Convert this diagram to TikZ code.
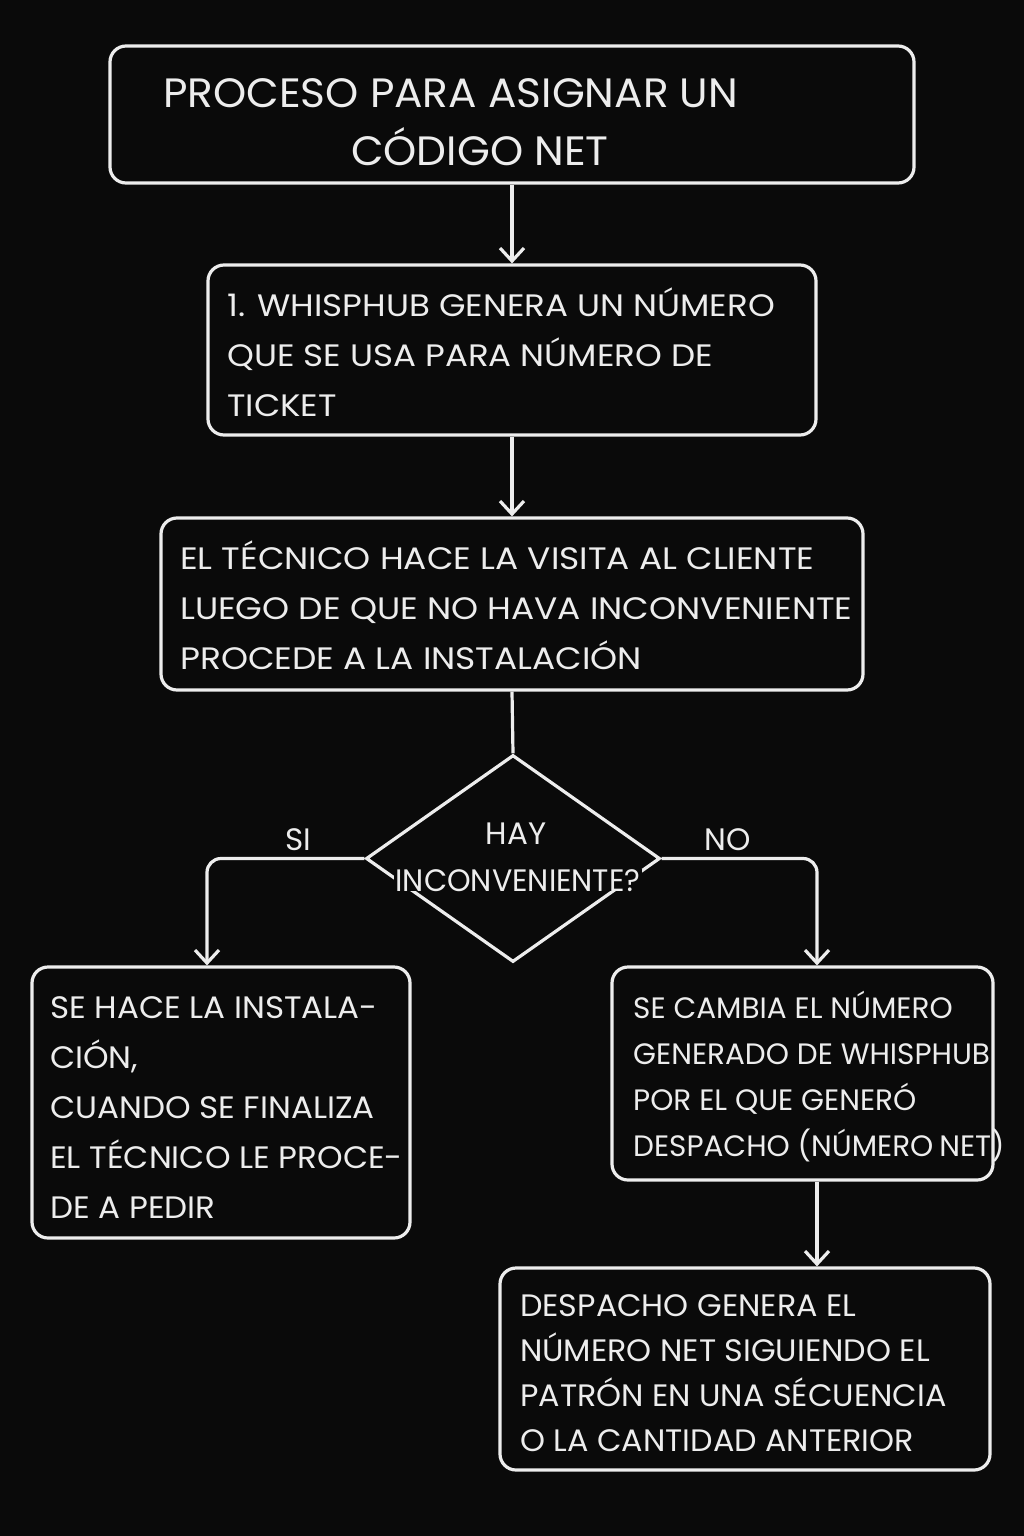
\documentclass[tikz,border=0pt]{standalone}
\usepackage{fontspec}
\setmainfont{Poppins}
\usetikzlibrary{arrows.meta,shapes.geometric}
\definecolor{bg}{HTML}{0A0A0A}
\definecolor{fg}{HTML}{EDEDED}
\begin{document}
\begin{tikzpicture}[x=1pt,y=-1pt,
 box/.style={draw=fg, line width=3.2pt, rounded corners=16pt, inner sep=0pt},
 txt/.style={text=fg, align=left, anchor=base west, inner sep=0pt},
 lbl/.style={text=fg, anchor=base, inner sep=0pt, font=\fontsize{31}{50}\selectfont},
 wire/.style={draw=fg, line width=3.2pt, rounded corners=14pt},
 conn/.style={wire, -{Straight Barb[length=13pt,width=24pt,line width=3.2pt]}},
]
\fill[bg] (0,0) rectangle (1024,1536);
\useasboundingbox (0,0) rectangle (1024,1536);

% boxes
\node[box, minimum width=804pt, minimum height=137pt] (title) at (512,114.5) {};
\node[box, minimum width=608pt, minimum height=170pt] (b1) at (512,350) {};
\node[box, minimum width=702pt, minimum height=172pt] (b2) at (512,604) {};
\node[diamond, draw=fg, line width=3.2pt, minimum width=294pt, minimum height=207pt, inner sep=0pt] (dec) at (513,858.5) {};
\node[box, minimum width=378pt, minimum height=271pt] (lbox) at (221,1102.5) {};
\node[box, minimum width=381pt, minimum height=213pt] (rbox) at (802.5,1073.5) {};
\node[box, minimum width=490pt, minimum height=202pt] (bbox) at (745,1369) {};

% texts (anchored at the baseline of the last line)
\node[txt, font=\fontsize{41}{58}\selectfont\addfontfeature{FakeStretch=1.03}] (tt) at (163,165) {PROCESO PARA ASIGNAR UN\\\hspace*{188pt}CÓDIGO NET};
\node[txt, font=\fontsize{31}{50}\selectfont\addfontfeature{FakeStretch=1.10}] (t1) at (227,416) {1. WHISPHUB GENERA UN NÚMERO\\QUE SE USA PARA NÚMERO DE\\TICKET};
\node[txt, font=\fontsize{31}{50}\selectfont\addfontfeature{FakeStretch=1.11}] (t2) at (180,669) {EL TÉCNICO HACE LA VISITA AL CLIENTE\\LUEGO DE QUE NO HAVA INCONVENIENTE\\PROCEDE A LA INSTALACIÓN};
\node[lbl] (th) at (516,844) {HAY};
\node[lbl, fill=bg, inner xsep=2pt, font=\fontsize{31}{50}\selectfont\addfontfeature{FakeStretch=0.97}] (ti) at (518,891) {INCONVENIENTE?};
\node[txt, font=\fontsize{31}{49.8}\selectfont\addfontfeature{FakeStretch=1.05}] (tl) at (50,1218) {SE HACE LA INSTALA-\\CIÓN,\\CUANDO SE FINALIZA\\EL TÉCNICO LE PROCE-\\DE A PEDIR};
\node[txt, font=\fontsize{29.5}{45.8}\selectfont] (tr) at (633,1156) {SE CAMBIA EL NÚMERO\\GENERADO DE WHISPHUB\\POR EL QUE GENERÓ\\DESPACHO (NÚMERO\kern-2pt\ NET)};
\node[txt, font=\fontsize{31}{45}\selectfont\addfontfeature{FakeStretch=1.025}] (tb) at (520,1451) {DESPACHO GENERA EL\\NÚMERO NET SIGUIENDO EL\\PATRÓN EN UNA SÉCUENCIA\\O LA CANTIDAD ANTERIOR};
\node[lbl] (si) at (298,850) {SI};
\node[lbl] (no) at (728,850) {NO};

% connectors
\draw[conn] (title.south) -- (b1.north);
\draw[conn] (b1.south) -- (b2.north);
\draw[wire] (b2.south) -- (dec.north);
\draw[conn] (dec.west) -| ([xshift=-14pt]lbox.north);
\draw[conn] (dec.east) -| ([xshift=14.5pt]rbox.north);
\draw[conn] ([xshift=14.5pt]rbox.south) -- ([xshift=14.5pt]rbox.south |- bbox.north);
\end{tikzpicture}
\end{document}
